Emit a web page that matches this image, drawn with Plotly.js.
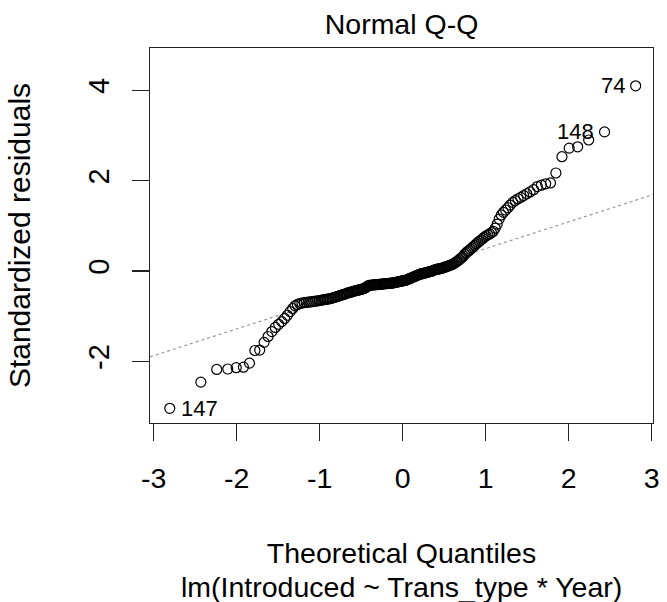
<!DOCTYPE html>
<html>
<head>
<meta charset="utf-8">
<script src="https://cdn.plot.ly/plotly-3.0.1.min.js"></script>
<style>
html,body{margin:0;padding:0;background:#fff;}
#chart{width:667px;height:602px;}
</style>
</head>
<body>
<div id="chart"></div>
<script>
// Theoretical quantiles (n = 200) read along the x axis
var theoreticalQuantiles = [
-2.807,-2.432,-2.241,-2.108,-2.006,-1.919,-1.846,-1.781,-1.723,-1.670,
-1.622,-1.577,-1.535,-1.495,-1.458,-1.423,-1.389,-1.357,-1.326,-1.296,
-1.268,-1.240,-1.214,-1.188,-1.163,-1.139,-1.115,-1.092,-1.070,-1.047,
-1.026,-1.005,-0.985,-0.965,-0.945,-0.925,-0.906,-0.887,-0.869,-0.851,
-0.833,-0.815,-0.798,-0.781,-0.764,-0.747,-0.731,-0.715,-0.698,-0.683,
-0.667,-0.651,-0.636,-0.621,-0.605,-0.591,-0.576,-0.561,-0.546,-0.532,
-0.517,-0.503,-0.489,-0.475,-0.461,-0.447,-0.433,-0.419,-0.406,-0.392,
-0.379,-0.365,-0.352,-0.339,-0.325,-0.312,-0.299,-0.286,-0.273,-0.260,
-0.247,-0.234,-0.221,-0.208,-0.195,-0.183,-0.170,-0.157,-0.145,-0.132,
-0.119,-0.107,-0.094,-0.082,-0.069,-0.056,-0.044,-0.031,-0.019,-0.006,
0.006,0.019,0.031,0.044,0.056,0.069,0.082,0.094,0.107,0.119,
0.132,0.145,0.157,0.170,0.183,0.195,0.208,0.221,0.234,0.247,
0.260,0.273,0.286,0.299,0.312,0.325,0.339,0.352,0.365,0.379,
0.392,0.406,0.419,0.433,0.447,0.461,0.475,0.489,0.503,0.517,
0.532,0.546,0.561,0.576,0.591,0.605,0.621,0.636,0.651,0.667,
0.683,0.698,0.715,0.731,0.747,0.764,0.781,0.798,0.815,0.833,
0.851,0.869,0.887,0.906,0.925,0.945,0.965,0.985,1.005,1.026,
1.047,1.070,1.092,1.115,1.139,1.163,1.188,1.214,1.240,1.268,
1.296,1.326,1.357,1.389,1.423,1.458,1.495,1.535,1.577,1.622,
1.670,1.723,1.781,1.846,1.919,2.006,2.108,2.241,2.432,2.807
];

// Sorted standardized residuals
var standardizedResiduals = [
-3.04,-2.46,-2.18,-2.17,-2.14,-2.13,-2.04,-1.76,-1.75,-1.58,
-1.45,-1.34,-1.25,-1.18,-1.12,-1.05,-0.98,-0.90,-0.83,-0.77,
-0.74,-0.72,-0.71,-0.70,-0.695,-0.69,-0.685,-0.68,-0.67,-0.665,
-0.66,-0.655,-0.65,-0.64,-0.635,-0.63,-0.62,-0.615,-0.61,-0.60,
-0.59,-0.58,-0.57,-0.56,-0.55,-0.54,-0.53,-0.52,-0.51,-0.50,
-0.49,-0.48,-0.475,-0.465,-0.455,-0.45,-0.44,-0.435,-0.43,-0.42,
-0.415,-0.41,-0.40,-0.39,-0.38,-0.37,-0.35,-0.33,-0.32,-0.315,
-0.31,-0.31,-0.305,-0.305,-0.30,-0.30,-0.30,-0.295,-0.295,-0.29,
-0.29,-0.285,-0.285,-0.28,-0.28,-0.28,-0.275,-0.275,-0.27,-0.27,
-0.265,-0.26,-0.255,-0.25,-0.245,-0.24,-0.235,-0.23,-0.225,-0.22,
-0.215,-0.21,-0.205,-0.20,-0.19,-0.18,-0.17,-0.16,-0.15,-0.14,
-0.13,-0.12,-0.11,-0.10,-0.09,-0.08,-0.07,-0.065,-0.06,-0.05,
-0.045,-0.04,-0.035,-0.03,-0.02,-0.015,-0.01,0.00,0.01,0.02,
0.03,0.035,0.04,0.045,0.05,0.06,0.065,0.07,0.08,0.09,
0.10,0.11,0.12,0.13,0.14,0.155,0.17,0.19,0.21,0.23,
0.25,0.28,0.30,0.33,0.37,0.40,0.43,0.45,0.48,0.51,
0.54,0.57,0.60,0.63,0.66,0.69,0.72,0.75,0.78,0.80,
0.82,0.85,0.88,0.95,1.04,1.15,1.24,1.30,1.35,1.40,
1.46,1.52,1.56,1.60,1.63,1.67,1.71,1.75,1.80,1.87,
1.90,1.93,1.95,2.17,2.53,2.72,2.75,2.90,3.08,4.10
];

// Labelled observations (index into the sorted arrays) and their ids
var labelIds = ["147", "148", "74"];
var labelIndex = [0, 198, 199];
var labelSide = ["right", "left", "left"];

// Reference (qqline) endpoints read at the plot edges
var refLineX = [-3.045, 3.016];
var refLineY = [-1.90, 1.69];

var xTicks = [-3, -2, -1, 0, 1, 2, 3];
var yTicks = [-2, 0, 2, 4];

var FONT = "Liberation Sans, Arial, Helvetica, sans-serif";

var traces = [
  {
    x: refLineX, y: refLineY, type: "scatter", mode: "lines",
    line: {color: "#999999", width: 1.2, dash: "dot"},
    hoverinfo: "skip", showlegend: false
  },
  {
    x: theoreticalQuantiles, y: standardizedResiduals,
    type: "scatter", mode: "markers",
    marker: {symbol: "circle-open", size: 10, color: "#000", line: {width: 1.2, color: "#000"}},
    showlegend: false
  }
];

var annotations = labelIds.map(function (id, k) {
  var i = labelIndex[k];
  var right = labelSide[k] === "right";
  return {
    x: theoreticalQuantiles[i], y: standardizedResiduals[i],
    xref: "x", yref: "y", text: id, showarrow: false,
    xanchor: right ? "left" : "right", yanchor: "middle",
    xshift: right ? 9 : -9,
    font: {family: FONT, size: 22, color: "#000"}
  };
});

annotations.push({
  text: "lm(Introduced ~ Trans_type * Year)",
  xref: "paper", yref: "paper", x: 0.5, y: -0.437,
  xanchor: "center", yanchor: "middle", showarrow: false,
  font: {family: FONT, size: 28.5, color: "#000"}
});

var layout = {
  width: 667, height: 602,
  margin: {l: 150, r: 14, t: 48, b: 179, pad: 0},
  paper_bgcolor: "#fff", plot_bgcolor: "#fff",
  font: {family: FONT, size: 28.5, color: "#000"},
  title: {
    text: "Normal Q-Q", font: {family: FONT, size: 28.5, color: "#000"},
    x: 0.5, xref: "paper", xanchor: "center",
    y: 1 - 24 / 602, yref: "container", yanchor: "middle"
  },
  xaxis: {
    range: [-3.045, 3.016], tickmode: "array", tickvals: xTicks,
    ticktext: xTicks.map(String),
    ticks: "outside", ticklen: 17, tickwidth: 1.3, tickcolor: "#222",
    showline: true, mirror: true, linecolor: "#222", linewidth: 1.3,
    showgrid: false, zeroline: false,
    tickfont: {family: FONT, size: 28.5, color: "#000"},
    ticklabelstandoff: 12,
    title: {text: "Theoretical Quantiles", standoff: 50,
            font: {family: FONT, size: 28.5, color: "#000"}},
    fixedrange: true
  },
  yaxis: {
    range: [-3.365, 4.937], tickmode: "array", tickvals: yTicks,
    ticktext: yTicks.map(String), tickangle: -90,
    ticks: "outside", ticklen: 17, tickwidth: 1.3, tickcolor: "#222",
    showline: true, mirror: true, linecolor: "#222", linewidth: 1.3,
    showgrid: false, zeroline: false,
    tickfont: {family: FONT, size: 29, color: "#000"},
    ticklabelstandoff: 11,
    title: {text: "Standardized residuals", standoff: 43,
            font: {family: FONT, size: 30, color: "#000"}},
    fixedrange: true
  },
  annotations: annotations,
  showlegend: false
};

Plotly.newPlot("chart", traces, layout, {displayModeBar: false, staticPlot: true});
</script>
</body>
</html>
